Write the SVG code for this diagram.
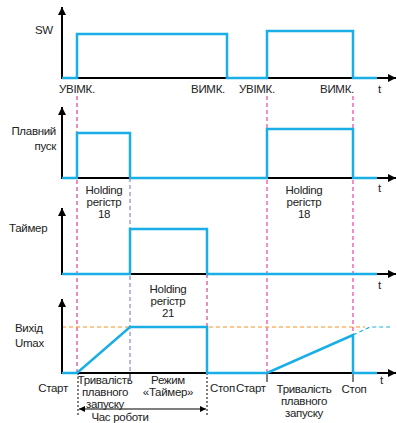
<svg xmlns="http://www.w3.org/2000/svg" width="397" height="423" viewBox="0 0 397 423">
<defs>
<marker id="ah" viewBox="0 0 10 10" refX="10" refY="5" markerWidth="12" markerHeight="8" markerUnits="userSpaceOnUse" orient="auto"><path d="M0,0 L10,5 L0,10 z" fill="#000"/></marker>
<marker id="ahs" viewBox="0 0 10 10" refX="10" refY="5" markerWidth="9" markerHeight="6" markerUnits="userSpaceOnUse" orient="auto-start-reverse"><path d="M0,0 L10,5 L0,10 z" fill="#000"/></marker>
<style>
text{font-family:"Liberation Sans",Arial,sans-serif;font-size:11.5px;fill:#222;letter-spacing:-0.3px}
.m{text-anchor:middle}
.e{text-anchor:end}
.ax{stroke:#000;stroke-width:2;fill:none}
.sig{stroke:#1aaee6;stroke-width:2.5;fill:none;stroke-linejoin:miter}
.dm{stroke:#d81b7f;stroke-width:1;stroke-dasharray:4,3;fill:none}
.dp{stroke:#f06ab4;stroke-width:1.5;stroke-dasharray:4,3;fill:none}
.db{stroke:#6a73b8;stroke-width:1;stroke-dasharray:4,3;fill:none}
.dk{stroke:#000;stroke-width:1;stroke-dasharray:2,2;fill:none}
</style>
</defs>
<g id="connectors">
<line class="dm" x1="77" y1="96" x2="77" y2="373"/>
<line class="dp" x1="267" y1="96" x2="267" y2="373"/>
<line class="dp" x1="353" y1="96" x2="353" y2="373"/>
<line class="db" x1="130" y1="178" x2="130" y2="373"/>
<line class="dm" x1="207" y1="274" x2="207" y2="373"/>
<line x1="62" y1="327" x2="365" y2="327" stroke="#f7941d" stroke-width="1.2" stroke-dasharray="4,3"/>
<polyline points="353,335 370,327 390,327" fill="none" stroke="#1aaee6" stroke-width="1.2" stroke-dasharray="4,3"/>
<line class="dk" x1="78" y1="373" x2="78" y2="415"/>
<line class="dk" x1="207" y1="373" x2="207" y2="415"/>
<line x1="79" y1="409" x2="206" y2="409" stroke="#000" stroke-width="1.2" marker-start="url(#ahs)" marker-end="url(#ahs)"/>
<line x1="130" y1="373" x2="130" y2="381" stroke="#000" stroke-width="1"/>
<line x1="267" y1="373" x2="267" y2="382" stroke="#000" stroke-width="1"/>
<line x1="353" y1="373" x2="353" y2="382" stroke="#000" stroke-width="1"/>
</g>
<g id="sw">
<line class="ax" x1="62" y1="79" x2="62" y2="7" marker-end="url(#ah)"/>
<line class="ax" x1="61" y1="78" x2="396" y2="78" marker-end="url(#ah)"/>
<polyline class="sig" points="62,78 77,78 77,34 227,34 227,78 267,78 267,31 353,31 353,78 377,78"/>
<text x="35" y="34">SW</text>
<text class="m" x="77" y="93">УВІМК.</text>
<text class="m" x="208" y="93">ВИМК.</text>
<text class="m" x="257" y="93">УВІМК.</text>
<text class="m" x="337" y="93">ВИМК.</text>
<text x="378" y="93">t</text>
</g>
<g id="soft">
<line class="ax" x1="62" y1="179" x2="62" y2="107" marker-end="url(#ah)"/>
<line class="ax" x1="61" y1="178" x2="396" y2="178" marker-end="url(#ah)"/>
<polyline class="sig" points="62,178 77,178 77,133 130,133 130,178 267,178 267,129 353,129 353,178 377,178"/>
<line x1="78" y1="178" x2="129" y2="178" stroke="#000" stroke-width="2"/>
<line x1="268" y1="178" x2="352" y2="178" stroke="#000" stroke-width="2"/>
<text class="e" x="56" y="135">Плавний</text>
<text class="e" x="56" y="150">пуск</text>
<text class="m" x="104" y="194">Holding</text>
<text class="m" x="104" y="206">регістр</text>
<text class="m" x="104" y="218">18</text>
<text class="m" x="304" y="194">Holding</text>
<text class="m" x="304" y="206">регістр</text>
<text class="m" x="304" y="218">18</text>
<text x="378" y="192">t</text>
</g>
<g id="timer">
<line class="ax" x1="62" y1="275" x2="62" y2="208" marker-end="url(#ah)"/>
<line class="ax" x1="61" y1="274" x2="396" y2="274" marker-end="url(#ah)"/>
<polyline class="sig" points="62,274 130,274 130,229 207,229 207,274 377,274"/>
<line x1="131" y1="274" x2="206" y2="274" stroke="#000" stroke-width="2"/>
<text x="9" y="232">Таймер</text>
<text class="m" x="168" y="293">Holding</text>
<text class="m" x="168" y="305">регістр</text>
<text class="m" x="168" y="317">21</text>
<text x="378" y="289">t</text>
</g>
<g id="output">
<line class="ax" x1="62" y1="374" x2="62" y2="299" marker-end="url(#ah)"/>
<line class="ax" x1="61" y1="373" x2="396" y2="373" marker-end="url(#ah)"/>
<polyline class="sig" points="62,373 77,373 130,327 207,327 207,373 267,373 353,335 353,373 377,373"/>
<text x="15" y="332">Вихід</text>
<text x="15" y="347">Umax</text>
<text class="m" x="53" y="392">Старт</text>
<text class="m" x="105" y="384">Тривалість</text>
<text class="m" x="105" y="396">плавного</text>
<text class="m" x="105" y="408">запуску</text>
<text class="m" x="168" y="384">Режим</text>
<text class="m" x="168" y="396">«Таймер»</text>
<text x="210" y="392">Стоп</text>
<text x="236" y="392">Старт</text>
<text class="m" x="304" y="393">Тривалість</text>
<text class="m" x="304" y="405">плавного</text>
<text class="m" x="304" y="417">запуску</text>
<text class="m" x="354" y="393">Стоп</text>
<text x="380" y="384">t</text>
<text class="m" x="120" y="421">Час роботи</text>
</g>
</svg>
